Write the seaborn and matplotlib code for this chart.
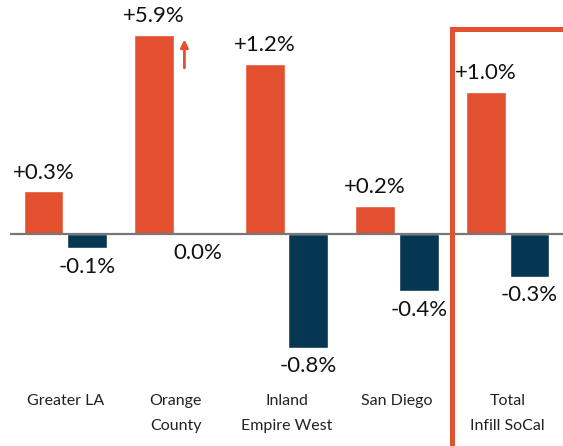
import pandas as pd
import matplotlib.pyplot as plt
import seaborn as sns
from matplotlib.patches import Rectangle

# Chart data
regions = ["Greater LA", "Orange\nCounty", "Inland\nEmpire West", "San Diego", "Total\nInfill SoCal"]
series = ["A", "B"]
values_a = [0.3, 5.9, 1.2, 0.2, 1.0]
values_b = [-0.1, 0.0, -0.8, -0.4, -0.3]
cap = 1.4  # bars taller than this are cut off and get an arrow

orange = "#E3502F"
navy = "#053652"

rows = []
for r, a, b in zip(regions, values_a, values_b):
    rows.append({"region": r, "series": "A", "value": a, "shown": min(a, cap)})
    rows.append({"region": r, "series": "B", "value": b, "shown": min(b, cap)})
df = pd.DataFrame(rows)

sns.set_style("white")
plt.rcParams["font.family"] = ["Lato", "DejaVu Sans"]

fig = plt.figure(figsize=(5.63, 4.46), dpi=100)
ax = fig.add_axes([10 / 563, 1 - 380 / 446, 553 / 563, 380 / 446])

sns.barplot(data=df, x="region", y="shown", hue="series", order=regions,
            palette={"A": orange, "B": navy}, width=0.79, gap=0.09,
            legend=False, ax=ax, saturation=1)

ax.set_xlim(-0.5, 4.5)
ax.set_ylim(-(380 - 234) / 142, 234 / 142)
ax.axhline(0, color="#777777", lw=1.6, zorder=3)

# value labels
off = 0.198
for i, (a, b) in enumerate(zip(values_a, values_b)):
    for x, v in ((i - off, a), (i + off, b)):
        txt = f"+{v:.1f}%" if v > 0 else f"{v:.1f}%"
        y = min(v, cap)
        dy = 13.5 if v > 0 else -13.5
        ax.annotate(txt, (x, y), xytext=(0, dy), textcoords="offset points",
                    ha="center", va="center", fontsize=16, color="#111111")
    if a > cap:
        ax.annotate("", xy=(i + 0.077, cap - 0.01), xytext=(i + 0.077, cap - 0.25),
                    arrowprops=dict(arrowstyle="-|>,head_width=0.22,head_length=0.45",
                                    color=orange, lw=2.0))

# highlight box around total
ax.add_patch(Rectangle((3.5, -3), 2, (234 - 29) / 142 + 3, fill=False,
                       edgecolor=orange, lw=3.6, clip_on=False, zorder=4))

ax.set_xticks(range(len(regions)))
ax.set_xticklabels(regions, fontsize=11.5, linespacing=2.0, va="top", color="#222222")
ax.tick_params(axis="x", length=0, pad=10)
ax.set_yticks([])
ax.set_xlabel("")
ax.set_ylabel("")
sns.despine(ax=ax, left=True, bottom=True)

fig.savefig("out.png", dpi=100)
